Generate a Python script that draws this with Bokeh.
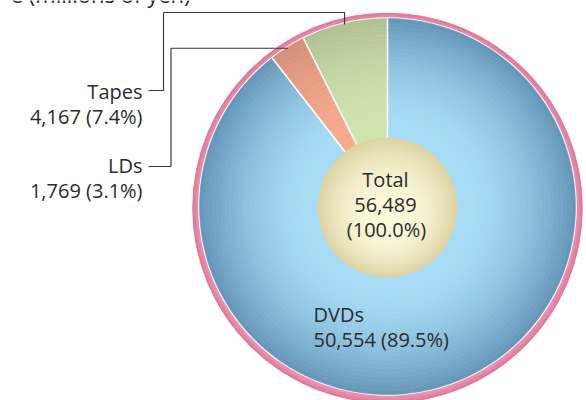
import numpy as np
from bokeh.plotting import figure
from bokeh.models import Range1d, ColumnDataSource
from bokeh.core.properties import value
from bokeh.embed import file_html
from bokeh.resources import INLINE

# ---------------- data ----------------
categories = ["Tapes", "LDs", "DVDs"]
sales = [4167, 1769, 50554]          # millions of yen
total_sales = 56489
title_text = "e (millions of yen)"

# ---------------- styles ----------------
light_cols = {"Tapes": "#cfe4ae", "LDs": "#f5aa8b", "DVDs": "#a6dcf6"}
dark_cols = {"Tapes": "#aec192", "LDs": "#d38f79", "DVDs": "#6596b8"}
FONT = value("Open Sans")
TXT = "#2b2b2b"
DY = 8   # text baseline correction (px)

W, H = 586, 400
CX, CY_REF = 387, 206
DISC_CY_REF = 207
R = 188.0
R_IN = 70.0


def Y(yref):
    return H - yref


CY = Y(CY_REF)


def hex2rgb(h):
    h = h.lstrip("#")
    return np.array([int(h[i:i + 2], 16) for i in (0, 2, 4)], float)


def mix(a, b, t):
    c = hex2rgb(a) * (1 - t) + hex2rgb(b) * t
    return "#%02x%02x%02x" % tuple(int(round(v)) for v in c)


p = figure(width=W, height=H, x_range=Range1d(0, W), y_range=Range1d(0, H),
           output_backend="svg", toolbar_location=None, min_border=0,
           x_axis_type=None, y_axis_type=None)
p.grid.visible = False
p.outline_line_color = None
p.background_fill_color = "white"
p.border_fill_color = "white"
p.styles = {"position": "absolute", "left": "0px", "top": "0px"}

# ---------------- angles from data ----------------
vals = np.array(sales, float)
shares = vals / vals.sum()
cum = np.concatenate([[0], np.cumsum(shares)])
starts = np.pi / 2 + 2 * np.pi * cum[:-1]
ends = np.pi / 2 + 2 * np.pi * cum[1:]
mids = (starts + ends) / 2

# ---------------- pink outer ring (slightly offset downward) ----------------
PR = 194.8
PCY = Y(207.5)
ring_edges = np.linspace(PR - 8, PR, 6)
for i in range(len(ring_edges) - 1, 0, -1):
    t = i / (len(ring_edges) - 1)
    c = mix("#eb9ab6", "#e17b9b", t ** 1.5)
    p.circle(x=[CX], y=[PCY], radius=ring_edges[i], fill_color=c,
             line_color=None)
p.circle(x=[CX], y=[PCY], radius=PR, fill_color=None,
         line_color="#e36f8e", line_width=0.8)

# white gap
p.circle(x=[CX], y=[CY], radius=R + 1.3, fill_color="white", line_color=None)

# ---------------- gradient slices ----------------
N = 44
rs = np.linspace(0, R, N + 1)
src = {"ir": [], "or": [], "sa": [], "ea": [], "col": []}
for k, cat in enumerate(categories):
    for i in range(N):
        t = (rs[i] + rs[i + 1]) / 2 / R
        f = np.clip((t - 0.42) / 0.58, 0, 1) ** 1.7
        c = mix(light_cols[cat], dark_cols[cat], f)
        src["ir"].append(rs[i])
        src["or"].append(rs[i + 1])
        src["sa"].append(starts[k])
        src["ea"].append(ends[k])
        src["col"].append(c)
src["x"] = [CX] * len(src["ir"])
src["y"] = [CY] * len(src["ir"])
p.annular_wedge(x="x", y="y", inner_radius="ir", outer_radius="or",
                start_angle="sa", end_angle="ea", fill_color="col",
                line_color="col", line_width=0.6, source=ColumnDataSource(src))

# white separators
p.segment(x0=[CX] * len(starts), y0=[CY] * len(starts),
          x1=list(CX + R * np.cos(starts)), y1=list(CY + R * np.sin(starts)),
          line_color="white", line_width=1.6)

# ---------------- centre disc (light spot slightly below centre) ----------------
DCY = Y(DISC_CY_REF)
M = 30
rc = np.linspace(0, R_IN, M + 1)
for i in range(M - 1, -1, -1):
    t = rc[i + 1] / R_IN
    c = mix("#fdf9da", "#ddd3a4", t ** 2.4)
    p.circle(x=[CX], y=[DCY - 12 * (1 - t)], radius=rc[i + 1],
             fill_color=c, line_color=None)

# ---------------- leader lines ----------------
ra = R - 1
a_t = categories.index("Tapes")
a_l = categories.index("LDs")
tx, ty = CX + ra * np.cos(mids[a_t]), CY + ra * np.sin(mids[a_t])
lx, ly = CX + ra * np.cos(mids[a_l]), CY + ra * np.sin(mids[a_l])
xs = [[tx, tx, 163, 163, 148], [lx, 170.5, 170.5, 148]]
ys = [[ty, Y(12), Y(12), Y(90), Y(90)], [ly, ly, Y(166), Y(166)]]
p.multi_line(xs=xs, ys=ys, line_color="#3a3a3a", line_width=1.2)

# ---------------- labels ----------------
def lab(cat):
    v = sales[categories.index(cat)]
    return f"{v:,} ({100 * v / total_sales:.1f}%)"


def T(yref):
    return Y(yref - DY)


p.text(x=[142, 142, 142, 142], y=[T(98.5), T(123.5), T(173), T(198)],
       text=["Tapes", lab("Tapes"), "LDs", lab("LDs")],
       text_align="right", text_baseline="alphabetic",
       text_font=FONT, text_font_size="20px", text_color=TXT)

p.text(x=[313, 313], y=[T(321.5), T(346.5)],
       text=["DVDs", lab("DVDs")],
       text_align="left", text_baseline="alphabetic",
       text_font=FONT, text_font_size="20px", text_color=TXT)

p.text(x=[385, 385, 386], y=[T(187), T(212), T(237)],
       text=["Total", f"{total_sales:,}", "(100.0%)"],
       text_align="center", text_baseline="alphabetic",
       text_font=FONT, text_font_size="20px", text_color=TXT)

p.text(x=[190], y=[T(1.5)], text=[title_text], text_align="right",
       text_baseline="alphabetic", text_font=FONT, text_font_size="22px",
       text_color=TXT)

open("out.html", "w").write(file_html(p, INLINE))
